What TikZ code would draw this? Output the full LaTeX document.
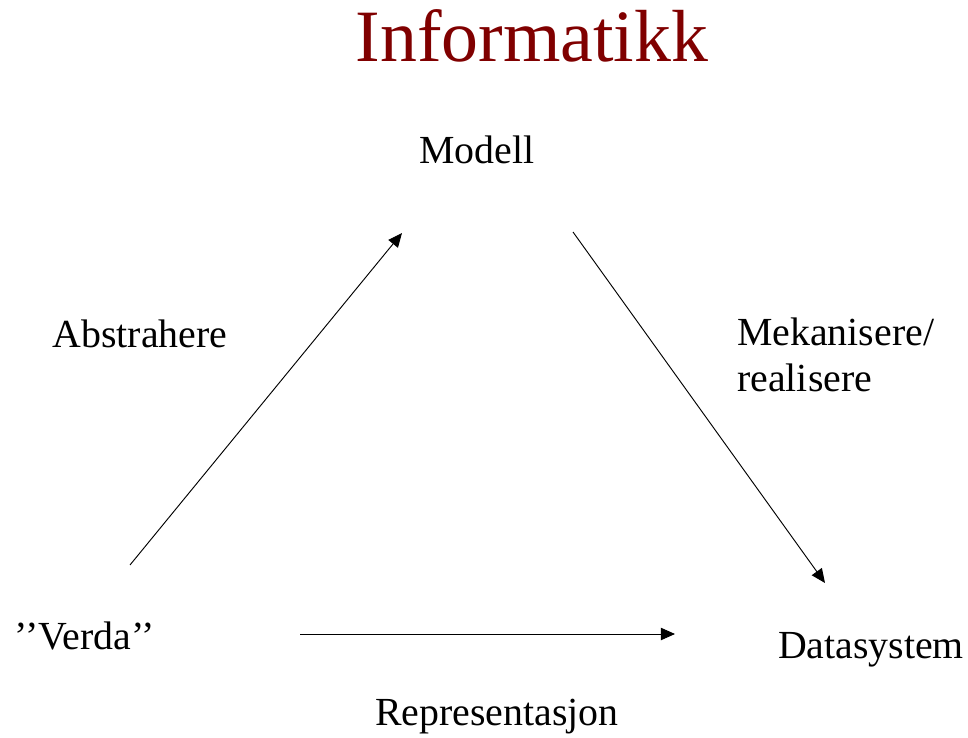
\documentclass[tikz,border=0pt]{standalone}
\usepackage{fontspec}
\setmainfont{Liberation Serif}
\usetikzlibrary{arrows.meta}
\definecolor{titlered}{HTML}{800000}

\begin{document}
\begin{tikzpicture}[x=0.03cm,y=-0.03cm]
        \tikzstyle{every node}=[inner sep=0pt, anchor=base, font=\fontsize{34}{40}\selectfont]
        \tikzstyle{title}=[text=titlered, font=\fontsize{63}{70}\selectfont]
        \tikzstyle{pil}=[line width=0.8pt, -{Triangle[length=12pt,width=10.5pt]}]
        \useasboundingbox (0,0) rectangle (968,738);
        \node[title] (tittel) at (532,62) {Informatikk};
        \node (modell) at (477,164) {Modell};
        \node (verda) at (85,650) {'{}'Verda'{}'};
        \node (data) at (871,658) {Datasystem};
        \node (abstr) at (140,348) {Abstrahere};
        \node[anchor=base west, align=left] (mek) at (737,392) {Mekanisere/\\realisere};
        \node (repr) at (497,725) {Representasjon};
        % piler
        \coordinate (a1) at (130,565);
        \coordinate (a2) at (402,233);
        \coordinate (b1) at (573,232);
        \coordinate (b2) at (825,583);
        \coordinate (c1) at (300,634);
        \coordinate (c2) at (675,634);
        \draw[pil] (a1) -- (a2);
        \draw[pil] (b1) -- (b2);
        \draw[pil] (c1) -- (c2);
    \end{tikzpicture}
\end{document}
